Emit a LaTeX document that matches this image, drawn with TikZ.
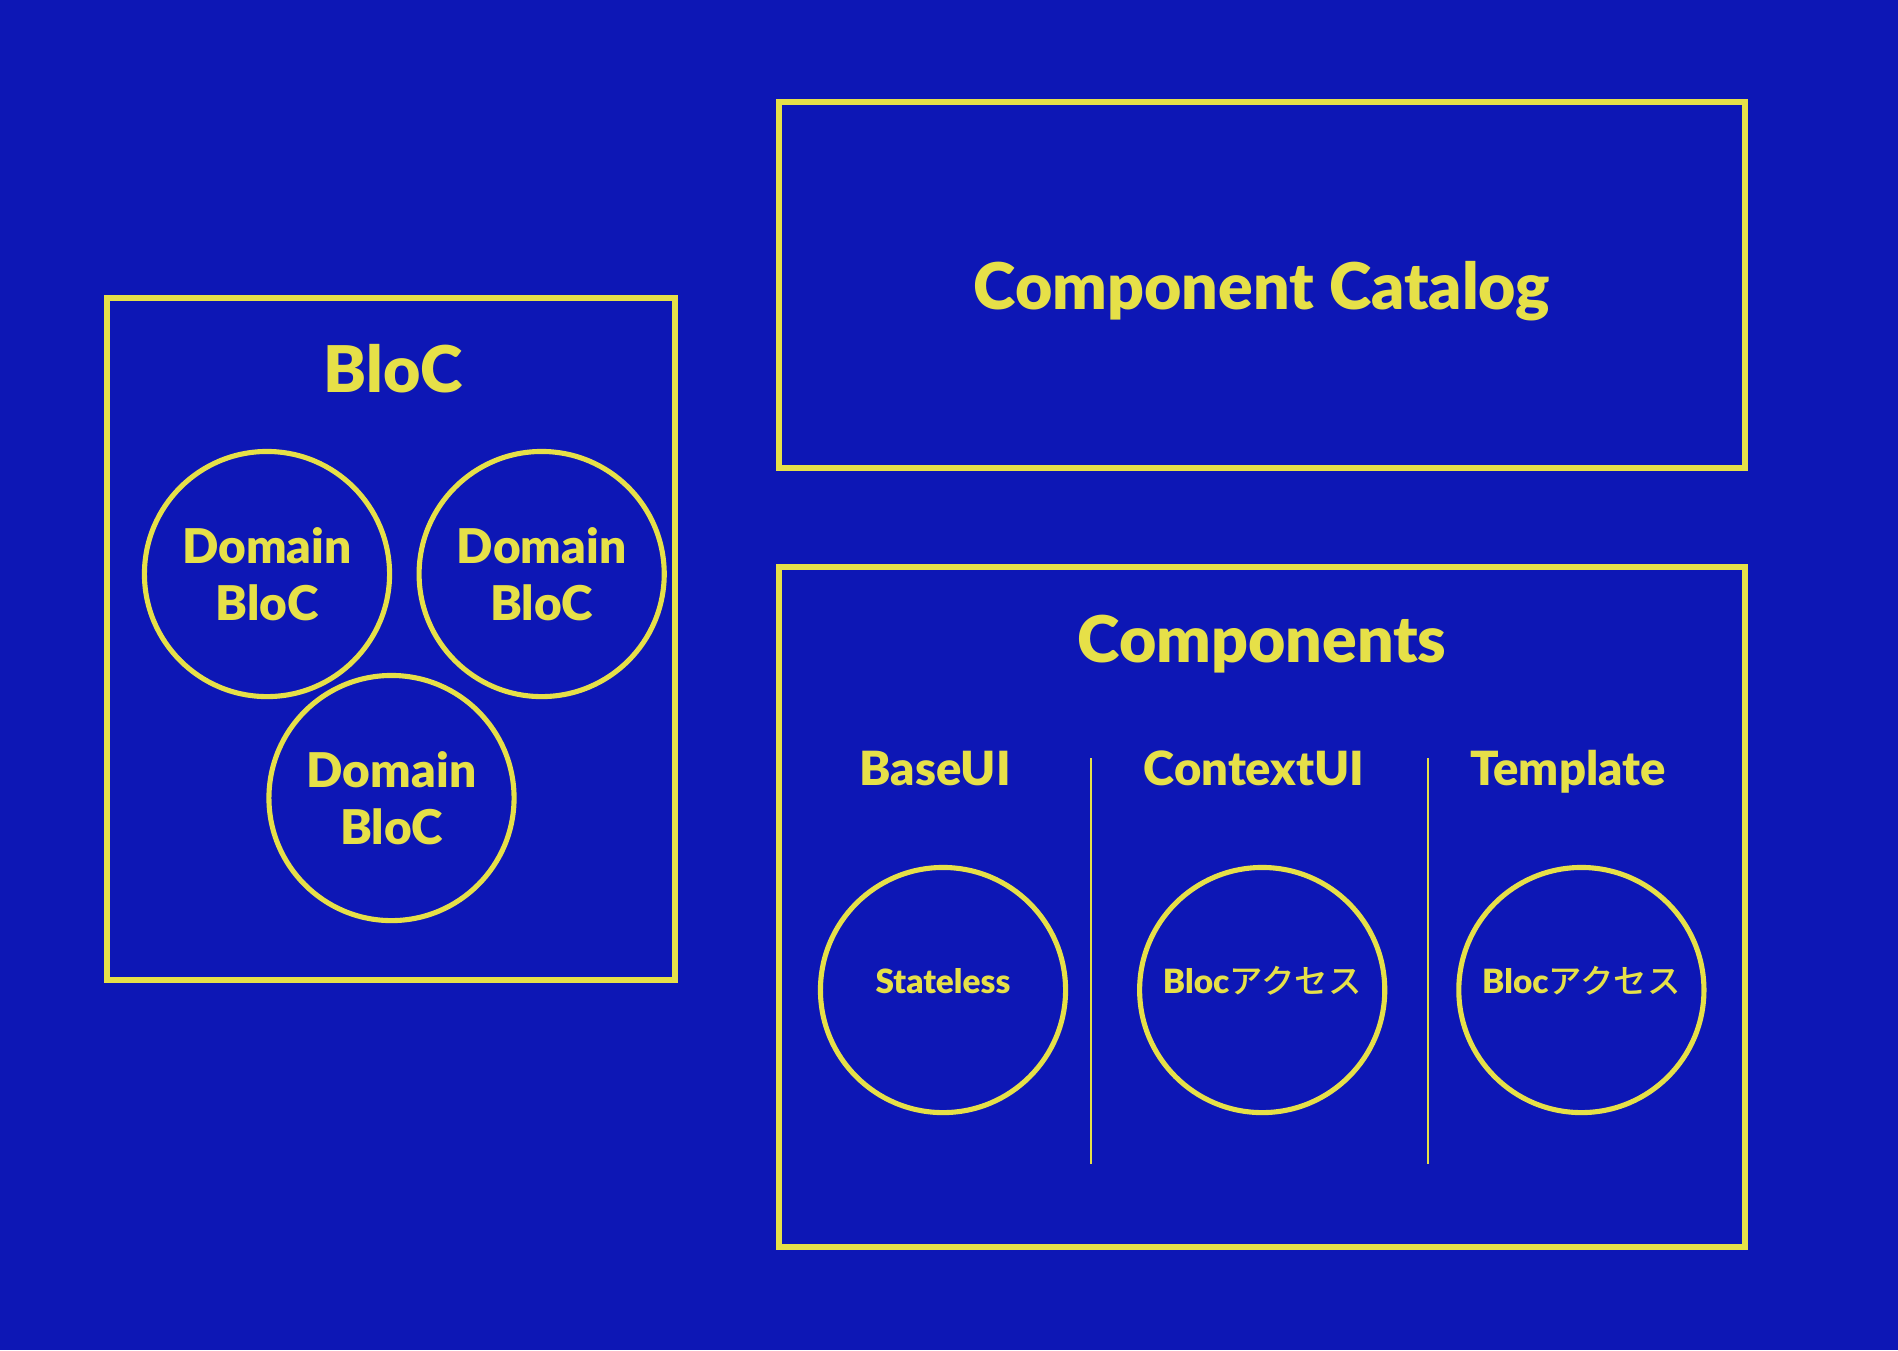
\documentclass[tikz,border=0pt]{standalone}
\usepackage{fontspec}
\setmainfont{Lato}[BoldFont={Lato Black}]
\newfontfamily\jpfont{Noto Sans CJK JP}[BoldFont={Noto Sans CJK JP Medium}]
\usetikzlibrary{positioning}

\definecolor{bgblue}{RGB}{13,23,181}
\definecolor{lemon}{RGB}{230,224,72}

\begin{document}
\begin{tikzpicture}[x=0.01cm, y=-0.01cm, color=lemon,
    panel/.style={draw=lemon, line width=1.6pt, rectangle, inner sep=0pt},
    ring/.style={draw=lemon, line width=1.45pt, circle, minimum size=2.45cm, inner sep=0pt, align=center},
    bigtitle/.style={anchor=base, font=\bfseries\fontsize{18.3}{22}\selectfont},
    colhead/.style={anchor=base, font=\bfseries\fontsize{13.4}{16}\selectfont},
    domaintext/.style={font=\bfseries\fontsize{13.6}{16.1}\selectfont},
    smalltext/.style={font=\bfseries\fontsize{9.5}{11}\selectfont, text height=7pt, text depth=5.3pt},
    divider/.style={draw=lemon, line width=0.7pt}]
    \fill[bgblue] (0,0) rectangle (1898,1350);
    \useasboundingbox (0,0) rectangle (1898,1350);

    % BloC side
    \node[panel, minimum width=5.68cm, minimum height=6.82cm] (blocbox) at (391,639) {};
    \node[bigtitle] (bloctitle) at (393,392.5) {BloC};
    \node[ring, domaintext] (dom1) at (267,574) {Domain\\BloC};
    \node[ring, domaintext, right of=dom1, node distance=2.745cm] (dom2) {Domain\\BloC};
    \node[ring, domaintext] (dom3) at (391.5,798) {Domain\\BloC};

    % catalog
    \node[panel, minimum width=9.65cm, minimum height=3.66cm] (catalog) at (1262,285) {};
    \node[bigtitle] (catalogtitle) at (1262,309) {Component Catalog};

    % components
    \node[panel, minimum width=9.65cm, minimum height=6.80cm] (components) at (1262,907) {};
    \node[bigtitle] (comptitle) at (1262,662) {Components};

    \node[colhead] (baseui) at (935,785.5) {BaseUI};
    \node[colhead] (contextui) at (1254,785.5) {ContextUI};
    \node[colhead] (template) at (1568,785.5) {Template};

    \node[ring, smalltext] (stateless) at (943,990) {Stateless};
    \node[ring, smalltext, right of=stateless, node distance=3.19cm] (ctxbloc) {Bloc{\jpfont アクセス}};
    \node[ring, smalltext, right of=ctxbloc, node distance=3.19cm] (tplbloc) {Bloc{\jpfont アクセス}};

    \coordinate (div1top) at (1091,758);
    \coordinate (div1bot) at (1091,1164);
    \coordinate (div2top) at (1428,758);
    \coordinate (div2bot) at (1428,1164);
    \draw[divider] (div1top) -- (div1bot);
    \draw[divider] (div2top) -- (div2bot);
\end{tikzpicture}
\end{document}
